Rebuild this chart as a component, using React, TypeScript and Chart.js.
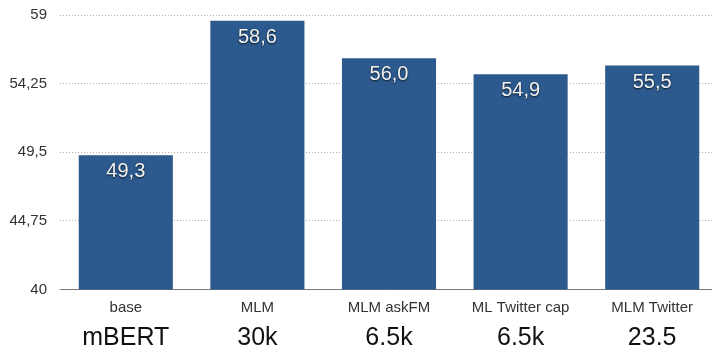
import React, { useEffect, useRef } from "react";
import { Chart, registerables } from "chart.js";

Chart.register(...registerables);

const categories = ["base", "MLM", "MLM askFM", "ML Twitter cap", "MLM Twitter"];
const subLabels = ["mBERT", "30k", "6.5k", "6.5k", "23.5"];
const scores = [49.3, 58.6, 56.0, 54.9, 55.5];
const yTicks = [40, 44.75, 49.5, 54.25, 59];

const FONT = "'Liberation Sans', Arial, Helvetica, sans-serif";
const fmtTick = (v: number) => String(v).replace(".", ",");
const fmtVal = (v: number) => v.toFixed(1).replace(".", ",");

const labelsPlugin = {
  id: "barLabels",
  afterDatasetsDraw(chart: any) {
    const ctx = chart.ctx;
    const meta = chart.getDatasetMeta(0);
    ctx.save();
    ctx.font = `20px ${FONT}`;
    ctx.textAlign = "center";
    ctx.textBaseline = "alphabetic";
    ctx.shadowColor = "rgba(0,0,0,0.8)";
    ctx.shadowBlur = 2;
    ctx.shadowOffsetX = 0;
    ctx.shadowOffsetY = 1;
    ctx.fillStyle = "#f2f2f2";
    meta.data.forEach((bar: any, i: number) => {
      ctx.fillText(fmtVal(scores[i]), bar.x, bar.y + 22);
    });
    ctx.restore();

    const xs = chart.scales.x;
    ctx.save();
    ctx.font = `25px ${FONT}`;
    ctx.fillStyle = "#111";
    ctx.textAlign = "center";
    ctx.textBaseline = "alphabetic";
    subLabels.forEach((t, i) => {
      ctx.fillText(t, xs.getPixelForValue(i), xs.bottom - 3);
    });
    ctx.restore();
  },
};

export default function App() {
  const ref = useRef<HTMLCanvasElement | null>(null);

  useEffect(() => {
    if (!ref.current) return;
    const chart = new Chart(ref.current, {
      type: "bar",
      data: {
        labels: categories,
        datasets: [
          {
            data: scores,
            backgroundColor: "#2D5A8E",
            borderWidth: 0,
            categoryPercentage: 1,
            barPercentage: 0.715,
          },
        ],
      },
      options: {
        responsive: false,
        animation: false,
        devicePixelRatio: 1,
        layout: { padding: { top: 15, left: 0, right: 0, bottom: 0 } },
        plugins: { legend: { display: false }, tooltip: { enabled: false } },
        scales: {
          x: {
            grid: { display: false, drawTicks: false },
            border: { display: true, color: "#777", width: 1 },
            ticks: {
              color: "#333",
              font: { size: 15, family: FONT },
              padding: 9,
              maxRotation: 0,
              autoSkip: false,
            },
            afterFit: (s: any) => {
              s.height = 58.5;
              s.paddingLeft = 0;
              s.paddingRight = 0;
            },
          },
          y: {
            min: 40,
            max: 59,
            afterBuildTicks: (s: any) => {
              s.ticks = yTicks.map((v) => ({ value: v }));
            },
            grid: {
              drawTicks: false,
              lineWidth: 1,
              color: (c: any) => (c.tick && c.tick.value === 40 ? "rgba(0,0,0,0)" : "#b0b0b0"),
            },
            border: { display: false, dash: [1, 2] },
            ticks: {
              color: "#333",
              font: { size: 15, family: FONT },
              padding: 13,
              callback: (v: any) => fmtTick(Number(v)),
            },
            afterFit: (s: any) => {
              s.width = 60;
              s.paddingTop = 0;
              s.paddingBottom = 0;
            },
          },
        },
      },
      plugins: [labelsPlugin],
    });
    return () => chart.destroy();
  }, []);

  return (
    <div style={{ position: "fixed", left: 0, top: 0, width: "100vw", height: "100vh", overflow: "hidden", background: "#fff" }}>
      <canvas ref={ref} width={718} height={348} style={{ display: "block" }} />
    </div>
  );
}
